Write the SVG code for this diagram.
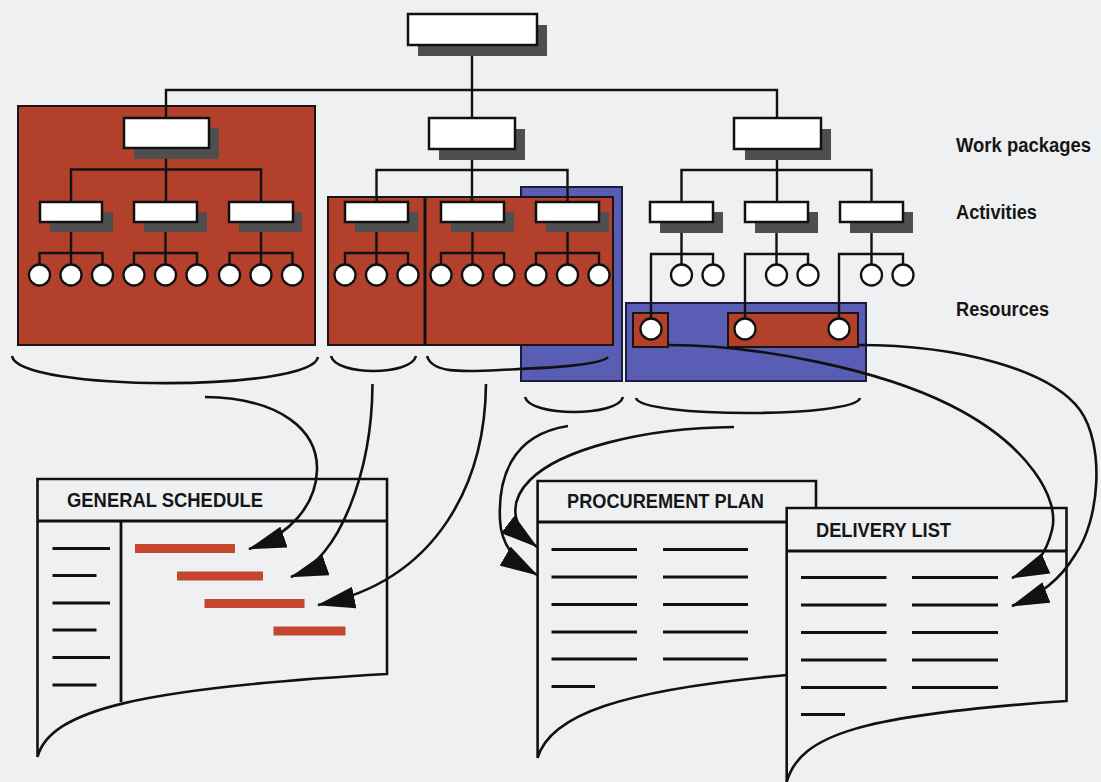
<svg xmlns="http://www.w3.org/2000/svg" width="1101" height="782" viewBox="0 0 1101 782">
  <style>
    .bg { fill: #eef0f2; }
    .red { fill: #b2402b; stroke: #1a1414; stroke-width: 2; }
    .blue { fill: #5a5db4; stroke: #1c1c3a; stroke-width: 2; }
    .box { fill: #ffffff; stroke: #111111; stroke-width: 2.5; }
    .shadow { fill: #4f4f4f; }
    .res { fill: #ffffff; stroke: #111111; stroke-width: 2.3; }
    .tree { fill: none; stroke: #111111; stroke-width: 2.4; }
    .brace { fill: none; stroke: #111111; stroke-width: 2.6; }
    .flow { fill: none; stroke: #111111; stroke-width: 2.6; marker-end: url(#arrow); }
    .doc { fill: #eef0f2; stroke: #111111; stroke-width: 2.6; }
    .rule { fill: none; stroke: #111111; stroke-width: 2.8; }
    .bar { fill: #c4462c; }
    .label { font-family: "Liberation Sans", Arial, sans-serif; font-weight: bold; font-size: 20px; fill: #161616; }
  </style>
  <defs>
    <marker id="arrow" markerUnits="userSpaceOnUse" markerWidth="38" markerHeight="22" viewBox="0 0 38 22" refX="37" refY="11" orient="auto">
      <path d="M0,0 L38,11 L0,22 Z" fill="#111111"/>
    </marker>
  </defs>

  <rect class="bg" x="0" y="0" width="1101" height="782"/>

  <!-- grouping panels -->
  <g id="panels">
    <rect class="red" x="18" y="106" width="297" height="239"/>
    <rect class="blue" x="521" y="187" width="101" height="194"/>
    <rect class="red" x="328" y="197" width="97" height="148"/>
    <rect class="red" x="425" y="197" width="188" height="148"/>
    <line x1="425" y1="197" x2="425" y2="345" stroke="#111" stroke-width="3"/>
    <rect class="blue" x="626" y="303" width="240" height="78"/>
    <rect class="red" x="633" y="313" width="35" height="34"/>
    <rect class="red" x="728" y="313" width="130" height="34"/>
  </g>

  <!-- tree links -->
  <g id="connectors">
    <path class="tree" d="M472,45 V118 M166,118 V90 H777 V118"/>
    <!-- work package 1 -->
    <path class="tree" d="M166,148 V202 M71,202 V169.5 H261 V202"/>
    <path class="tree" d="M71,222 V264.5 M39.5,264.5 V253 H102.5 V264.5"/>
    <path class="tree" d="M165.5,222 V264.5 M134,264.5 V253 H197 V264.5"/>
    <path class="tree" d="M261,222 V264.5 M229.5,264.5 V253 H292.5 V264.5"/>
    <!-- work package 2 -->
    <path class="tree" d="M472,149 V202 M376.5,202 V170 H567.5 V202"/>
    <path class="tree" d="M376.5,222 V264.5 M345,264.5 V253 H408 V264.5"/>
    <path class="tree" d="M472.5,222 V264.5 M441,264.5 V253 H504 V264.5"/>
    <path class="tree" d="M567.5,222 V264.5 M536,264.5 V253 H599 V264.5"/>
    <!-- work package 3 -->
    <path class="tree" d="M777,149 V202 M681.5,202 V170 H871.5 V202"/>
    <path class="tree" d="M681.5,222 V264.5 M713,264.5 V254 H651 V318.5"/>
    <path class="tree" d="M776.5,222 V264.5 M808,264.5 V254 H745 V318.5"/>
    <path class="tree" d="M871.5,222 V264.5 M903,264.5 V254 H839 V318.5"/>
  </g>

  <!-- root -->
  <g id="node-root">
    <rect class="shadow" x="418" y="25" width="129" height="31"/>
    <rect class="box" x="408" y="14" width="129" height="31"/>
  </g>

  <!-- work packages -->
  <g id="wp-1">
    <rect class="shadow" x="134" y="128" width="85" height="31"/>
    <rect class="box" x="124" y="118" width="85" height="30"/>
  </g>
  <g id="wp-2">
    <rect class="shadow" x="439" y="129" width="86" height="31"/>
    <rect class="box" x="429" y="118" width="86" height="31"/>
  </g>
  <g id="wp-3">
    <rect class="shadow" x="745" y="129" width="86" height="31"/>
    <rect class="box" x="734" y="118" width="87" height="31"/>
  </g>

  <!-- activities -->
  <g id="act-1-1"><rect class="shadow" x="50" y="212" width="63" height="20"/><rect class="box" x="40" y="202" width="62" height="20"/></g>
  <g id="act-1-2"><rect class="shadow" x="144" y="212" width="63" height="20"/><rect class="box" x="134" y="202" width="63" height="20"/></g>
  <g id="act-1-3"><rect class="shadow" x="239" y="212" width="63" height="20"/><rect class="box" x="229" y="202" width="64" height="20"/></g>
  <g id="act-2-1"><rect class="shadow" x="355" y="212" width="63" height="20"/><rect class="box" x="345" y="202" width="63" height="20"/></g>
  <g id="act-2-2"><rect class="shadow" x="451" y="212" width="63" height="20"/><rect class="box" x="441" y="202" width="63" height="20"/></g>
  <g id="act-2-3"><rect class="shadow" x="546" y="212" width="63" height="20"/><rect class="box" x="536" y="202" width="63" height="20"/></g>
  <g id="act-3-1"><rect class="shadow" x="660" y="212" width="63" height="21"/><rect class="box" x="650" y="202" width="63" height="20"/></g>
  <g id="act-3-2"><rect class="shadow" x="755" y="212" width="63" height="21"/><rect class="box" x="745" y="202" width="63" height="20"/></g>
  <g id="act-3-3"><rect class="shadow" x="850" y="212" width="63" height="21"/><rect class="box" x="840" y="202" width="63" height="20"/></g>

  <!-- resources -->
  <g id="res-1">
    <circle class="res" cx="39.5" cy="275" r="10.5"/><circle class="res" cx="71" cy="275" r="10.5"/><circle class="res" cx="102.5" cy="275" r="10.5"/>
    <circle class="res" cx="134" cy="275" r="10.5"/><circle class="res" cx="165.5" cy="275" r="10.5"/><circle class="res" cx="197" cy="275" r="10.5"/>
    <circle class="res" cx="229.5" cy="275" r="10.5"/><circle class="res" cx="261" cy="275" r="10.5"/><circle class="res" cx="292.5" cy="275" r="10.5"/>
  </g>
  <g id="res-2">
    <circle class="res" cx="345" cy="275" r="10.5"/><circle class="res" cx="376.5" cy="275" r="10.5"/><circle class="res" cx="408" cy="275" r="10.5"/>
    <circle class="res" cx="441" cy="275" r="10.5"/><circle class="res" cx="472.5" cy="275" r="10.5"/><circle class="res" cx="504" cy="275" r="10.5"/>
    <circle class="res" cx="536" cy="275" r="10.5"/><circle class="res" cx="567.5" cy="275" r="10.5"/><circle class="res" cx="599" cy="275" r="10.5"/>
  </g>
  <g id="res-3">
    <circle class="res" cx="681.5" cy="275" r="10.5"/><circle class="res" cx="713" cy="275" r="10.5"/>
    <circle class="res" cx="776.5" cy="275" r="10.5"/><circle class="res" cx="808" cy="275" r="10.5"/>
    <circle class="res" cx="871.5" cy="275" r="10.5"/><circle class="res" cx="903" cy="275" r="10.5"/>
    <circle class="res" cx="651" cy="329" r="10.5"/><circle class="res" cx="745" cy="329" r="10.5"/><circle class="res" cx="839" cy="329" r="10.5"/>
  </g>

  <!-- level labels -->
  <g id="levels">
    <text class="label" x="956" y="152" textLength="135" lengthAdjust="spacingAndGlyphs">Work packages</text>
    <text class="label" x="956" y="219" textLength="81" lengthAdjust="spacingAndGlyphs">Activities</text>
    <text class="label" x="956" y="316" textLength="93" lengthAdjust="spacingAndGlyphs">Resources</text>
  </g>

  <!-- documents -->
  <g id="doc-schedule">
    <path class="doc" d="M37.5,757 V479 H387 V674 C 140,688 50,710 37.5,757 Z"/>
    <path class="rule" d="M37.5,521 H387 M121,521 V702"/>
    <text class="label" x="67" y="507" textLength="196" lengthAdjust="spacingAndGlyphs">GENERAL SCHEDULE</text>
    <path class="rule" d="M52.5,548.5 H110 M52.5,575.5 H96.5 M52.5,603 H110 M52.5,630 H96.5 M52.5,657.5 H110 M52.5,685 H96.5"/>
    <rect class="bar" x="135" y="544" width="100" height="9"/>
    <rect class="bar" x="177" y="571.5" width="86" height="9"/>
    <rect class="bar" x="204.5" y="599" width="100" height="9"/>
    <rect class="bar" x="273.5" y="626.5" width="72" height="9"/>
  </g>
  <g id="doc-procurement">
    <path class="doc" d="M537.6,758 V481 H816 V675 H787 C 620,690 550,715 537.6,758 Z"/>
    <path class="rule" d="M537.6,522 H816"/>
    <text class="label" x="567" y="508" textLength="197" lengthAdjust="spacingAndGlyphs">PROCUREMENT PLAN</text>
    <path class="rule" d="M551.5,549.5 H637 M663,549.5 H748 M551.5,577 H637 M663,577 H748 M551.5,604.5 H637 M663,604.5 H748 M551.5,632 H637 M663,632 H748 M551.5,659 H637 M663,659 H748 M551.5,686.5 H595"/>
  </g>
  <g id="doc-delivery">
    <path class="doc" d="M786.7,782 V508 H1066.5 V701 C 860,715 800,735 786.7,782 Z"/>
    <path class="rule" d="M786.7,551 H1066.5"/>
    <text class="label" x="816" y="537" textLength="135" lengthAdjust="spacingAndGlyphs">DELIVERY LIST</text>
    <path class="rule" d="M801,577.5 H886.5 M912,577.5 H998 M801,605 H886.5 M912,605 H998 M801,632.5 H886.5 M912,632.5 H998 M801,660 H886.5 M912,660 H998 M801,687.5 H886.5 M912,687.5 H998 M801,714.5 H845"/>
  </g>

  <!-- braces and flow arrows -->
  <g id="flows">
    <path class="brace" d="M12,356 C 18,392 312,392 318,357"/>
    <path class="brace" d="M331,356 C 336,376 411,376 416,356"/>
    <path class="brace" d="M427,356 C 432,373 460,372 500,370 S 600,366 608,357"/>
    <path class="brace" d="M525,397 C 530,417 618,417 623,397"/>
    <path class="brace" d="M636,398 C 641,418 855,418 860,398"/>

    <path class="flow" d="M205,397 C 280,398 318,430 317,470 C 316,505 290,535 249,549"/>
    <path class="flow" d="M372.5,384 C 372,470 340,560 291,577"/>
    <path class="flow" d="M486,384 C 485,480 440,580 318,605"/>
    <path class="flow" d="M568,426 C 510,435 498,480 500,520 C 501,545 515,562 537,575"/>
    <path class="flow" d="M734,427 C 640,428 560,450 530,480 C 505,505 515,530 537,547"/>
    <path class="flow" d="M668,345 C 760,345 880,370 950,405 C 1030,445 1060,500 1052,530 C 1046,555 1035,568 1012,578"/>
    <path class="flow" d="M858,345 C 960,345 1050,370 1080,410 C 1105,445 1100,520 1075,555 C 1060,580 1040,595 1012,606"/>
  </g>
</svg>
